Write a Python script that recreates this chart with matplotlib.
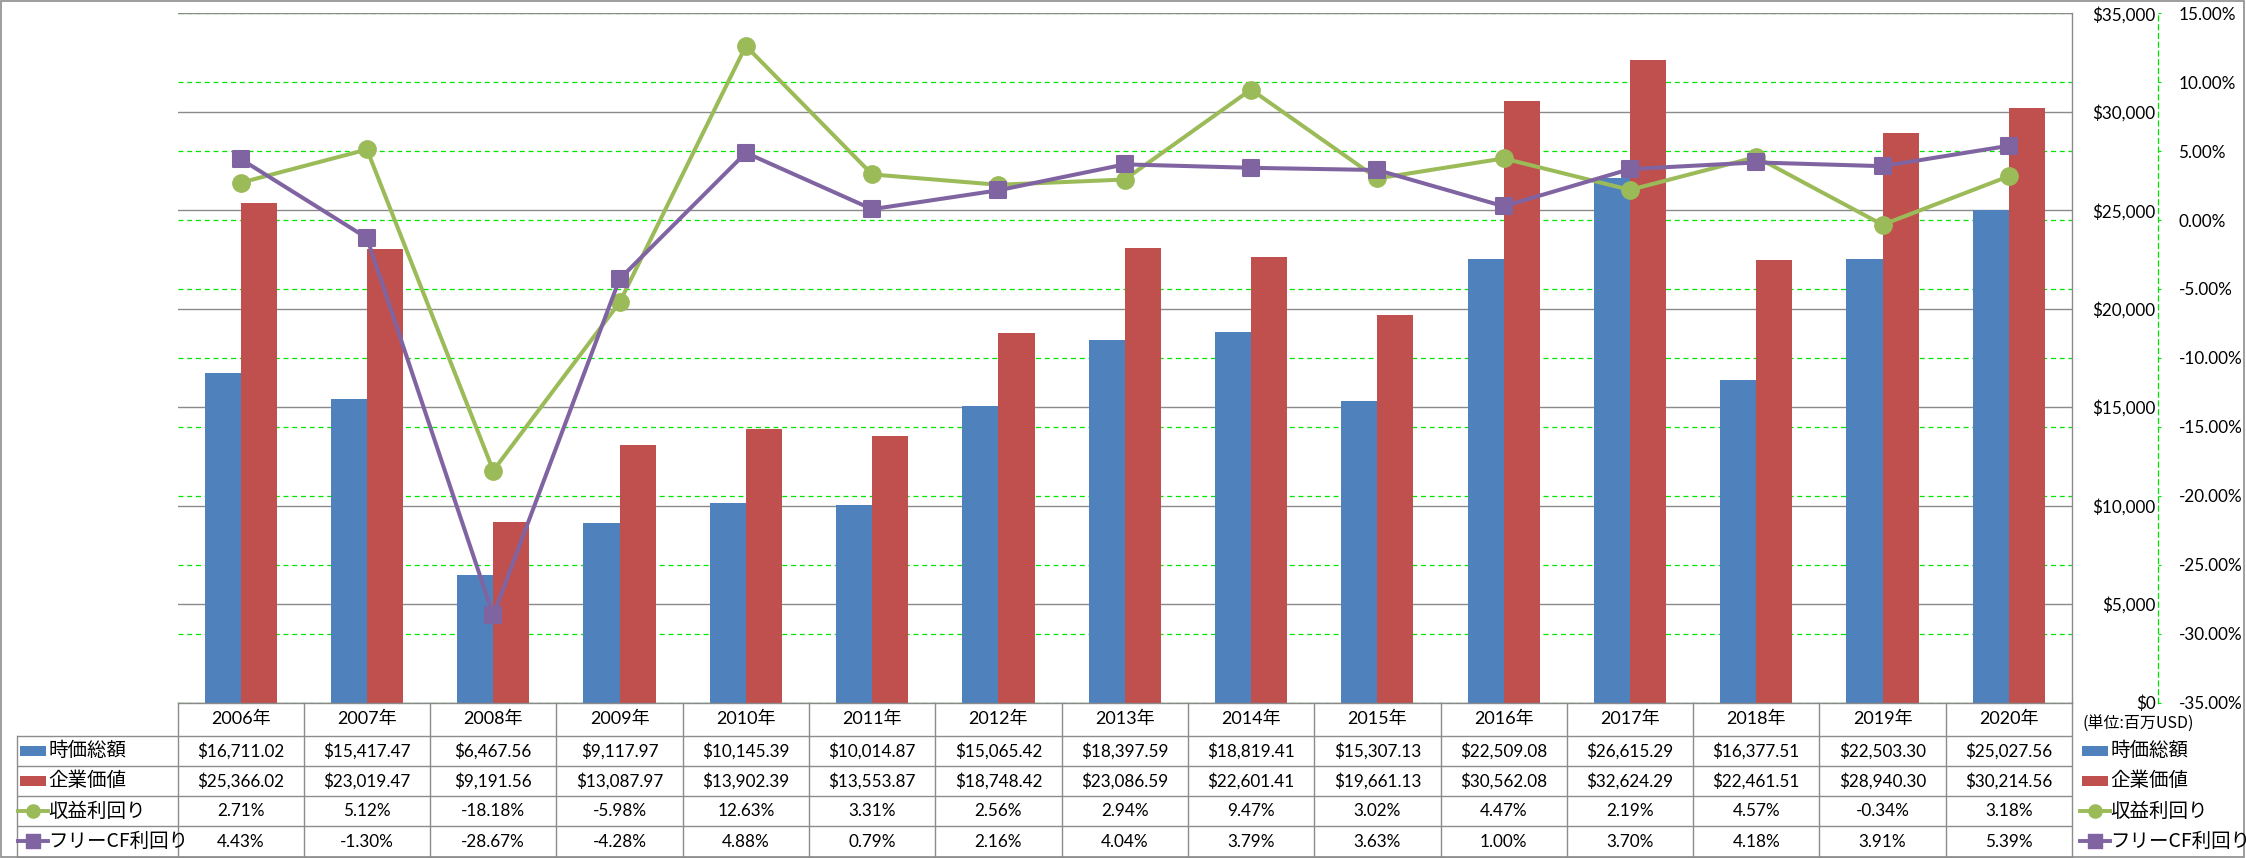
import matplotlib
matplotlib.use("Agg")
import matplotlib.pyplot as plt
from matplotlib.patches import Rectangle
from matplotlib.markers import MarkerStyle
from matplotlib.transforms import blended_transform_factory

plt.rcParams['font.family'] = ['Lato', 'Noto Sans CJK JP', 'DejaVu Sans']

# ---------------- data ----------------
years = ["2006年", "2007年", "2008年", "2009年", "2010年", "2011年", "2012年", "2013年",
         "2014年", "2015年", "2016年", "2017年", "2018年", "2019年", "2020年"]
market_cap = [16711.02, 15417.47, 6467.56, 9117.97, 10145.39, 10014.87, 15065.42, 18397.59,
              18819.41, 15307.13, 22509.08, 26615.29, 16377.51, 22503.30, 25027.56]
enterprise_value = [25366.02, 23019.47, 9191.56, 13087.97, 13902.39, 13553.87, 18748.42, 23086.59,
                    22601.41, 19661.13, 30562.08, 32624.29, 22461.51, 28940.30, 30214.56]
earnings_yield = [2.71, 5.12, -18.18, -5.98, 12.63, 3.31, 2.56, 2.94, 9.47, 3.02, 4.47, 2.19,
                  4.57, -0.34, 3.18]
fcf_yield = [4.43, -1.30, -28.67, -4.28, 4.88, 0.79, 2.16, 4.04, 3.79, 3.63, 1.00, 3.70,
             4.18, 3.91, 5.39]
series_names = ["時価総額", "企業価値", "収益利回り", "フリーCF利回り"]
unit_label = "(単位:百万USD)"
usd_ticks = [0, 5000, 10000, 15000, 20000, 25000, 30000, 35000]
pct_ticks = [-35, -30, -25, -20, -15, -10, -5, 0, 5, 10, 15]

# ---------------- style ----------------
W, H = 2246, 858
BLUE, RED, GREEN, PURPLE = "#4F81BD", "#C0504D", "#9BBB59", "#8064A2"
GRID_GRAY = "#8A8A8A"
LIME = "#00E600"
NUM_FS = 12.3
JP_FS = 14

fig = plt.figure(figsize=(W / 100, H / 100), dpi=100)


def rect(x0, y0, x1, y1):
    return [x0 / W, 1 - y1 / H, (x1 - x0) / W, (y1 - y0) / H]


# overlay axes in pixel coordinates for table / frame
tab = fig.add_axes([0, 0, 1, 1], zorder=5)
tab.set_xlim(0, W)
tab.set_ylim(H, 0)
tab.axis("off")
tab.patch.set_visible(False)

PL, PR, PT, PB = 177.5, 2072, 13.3, 702.5
ax_pct = fig.add_axes(rect(PL, PT, PR, PB))
ax_bar = ax_pct.twinx()
ax_line = ax_pct.twinx()

n = len(years)
xs = list(range(n))
for a in (ax_pct, ax_bar, ax_line):
    a.set_xlim(-0.5, n - 0.5)
    a.set_xticks([])
    a.tick_params(axis="x", length=0, labelbottom=False)

# --- percentage axis (bottom layer: green dashed grid) ---
ax_pct.set_ylim(-35, 15)
ax_pct.yaxis.tick_right()
ax_pct.set_yticks(pct_ticks, labels=[f"{t:.2f}%" for t in pct_ticks])
for lbl, t in zip(ax_pct.get_yticklabels(), pct_ticks):
    lbl.set_color("#FF0000" if t < 0 else "black")
ax_pct.tick_params(axis="y", direction="out", length=2.5, width=0.8, color=LIME,
                   pad=12.2, labelsize=NUM_FS)
ax_pct.grid(axis="y", color=LIME, linestyle=(0, (4, 3)), linewidth=0.9)
for s in ("left", "top", "bottom"):
    ax_pct.spines[s].set_visible(False)
ax_pct.spines["right"].set_position(("outward", 61.9))
ax_pct.spines["right"].set_color(LIME)
ax_pct.spines["right"].set_linestyle((0, (4, 3)))
ax_pct.spines["right"].set_linewidth(0.9)

# --- bar axis ---
ax_bar.set_ylim(0, 35000)
ax_bar.set_yticks(usd_ticks, labels=[f"${t:,.0f}" for t in usd_ticks])
ax_bar.tick_params(axis="y", length=0, pad=60.3, labelsize=NUM_FS)
for lbl in ax_bar.get_yticklabels():
    lbl.set_horizontalalignment("right")
ax_bar.grid(axis="y", color=GRID_GRAY, linewidth=1.0)
ax_bar.set_axisbelow(True)
for s in ("left", "top"):
    ax_bar.spines[s].set_visible(False)
ax_bar.spines["right"].set_color(GRID_GRAY)
ax_bar.spines["bottom"].set_color(GRID_GRAY)
ax_bar.spines["right"].set_linewidth(1.0)
ax_bar.spines["bottom"].set_linewidth(1.0)

bw = 1 / 3.5
ax_bar.bar([x - bw / 2 for x in xs], market_cap, width=bw, color=BLUE, zorder=2)
ax_bar.bar([x + bw / 2 for x in xs], enterprise_value, width=bw, color=RED, zorder=2)

# --- line axis ---
ax_line.set_ylim(-35, 15)
ax_line.axis("off")
circ = MarkerStyle("o")
sq = MarkerStyle("s", joinstyle="round")
ax_line.plot(xs, earnings_yield, color=GREEN, linewidth=2.9, marker=circ, markersize=12.5,
             markeredgecolor=GREEN, markerfacecolor=GREEN, clip_on=False)
ax_line.plot(xs, fcf_yield, color=PURPLE, linewidth=2.9, marker=sq, markersize=11.5,
             markeredgecolor=PURPLE, markeredgewidth=1.5, markerfacecolor=PURPLE, clip_on=False)

# ---------------- data table ----------------
TBL_GRAY = "#8C8C8C"
LEG_L = 16.7
rows_y = [702.5, 735.5, 765.5, 796, 826, 856.5]
trans = blended_transform_factory(ax_bar.transData, tab.transData)

for y in rows_y[1:]:
    tab.plot([LEG_L, PR], [y, y], color=TBL_GRAY, lw=1.0, solid_capstyle="butt")
for i in range(n + 1):
    tab.plot([i - 0.5, i - 0.5], [rows_y[0], rows_y[-1]], color=TBL_GRAY, lw=1.0, transform=trans)
tab.plot([LEG_L, LEG_L], [rows_y[1], rows_y[-1]], color=TBL_GRAY, lw=1.0)

hdr_c = (rows_y[0] + rows_y[1]) / 2
for i, yr in enumerate(years):
    tab.text(i, hdr_c, yr, transform=trans, ha="center", va="center", fontsize=NUM_FS + 0.7)

row_c = [(rows_y[k] + rows_y[k + 1]) / 2 for k in range(1, 5)]
table_rows = [
    [f"${v:,.2f}" for v in market_cap],
    [f"${v:,.2f}" for v in enterprise_value],
    [f"{v:.2f}%" for v in earnings_yield],
    [f"{v:.2f}%" for v in fcf_yield],
]
for r, vals in enumerate(table_rows):
    for i, s in enumerate(vals):
        tab.text(i, row_c[r] + 0.5, s, transform=trans, ha="center", va="center", fontsize=NUM_FS)


def legend_key(x0, yc, kind, color):
    if kind == "bar":
        tab.add_patch(Rectangle((x0, yc - 5), 26, 10, color=color, lw=0))
    else:
        tab.plot([x0 - 2, x0 + 28], [yc, yc], color=color, lw=2.8)
        mk = circ if kind == "o" else sq
        tab.plot([x0 + 13], [yc], marker=mk, markersize=9.5, color=color,
                 markeredgecolor=color, markeredgewidth=1.0)


kinds = ["bar", "bar", "o", "s"]
colors = [BLUE, RED, GREEN, PURPLE]
for r in range(4):
    legend_key(20, row_c[r], kinds[r], colors[r])
    tab.text(48, row_c[r], series_names[r], ha="left", va="center", fontsize=JP_FS,
             family=["Noto Sans CJK JP"])
    legend_key(2082, row_c[r], kinds[r], colors[r])
    tab.text(2110, row_c[r], series_names[r], ha="left", va="center", fontsize=JP_FS,
             family=["Noto Sans CJK JP"])

tab.text(2082, 724, unit_label, ha="left", va="center", fontsize=11.5,
         family=["Noto Sans CJK JP"])

# outer frame
tab.add_patch(Rectangle((1, 1.2), 2243, 855.3, fill=False, edgecolor=TBL_GRAY, lw=1.2))

fig.savefig("out.png", dpi=100)
